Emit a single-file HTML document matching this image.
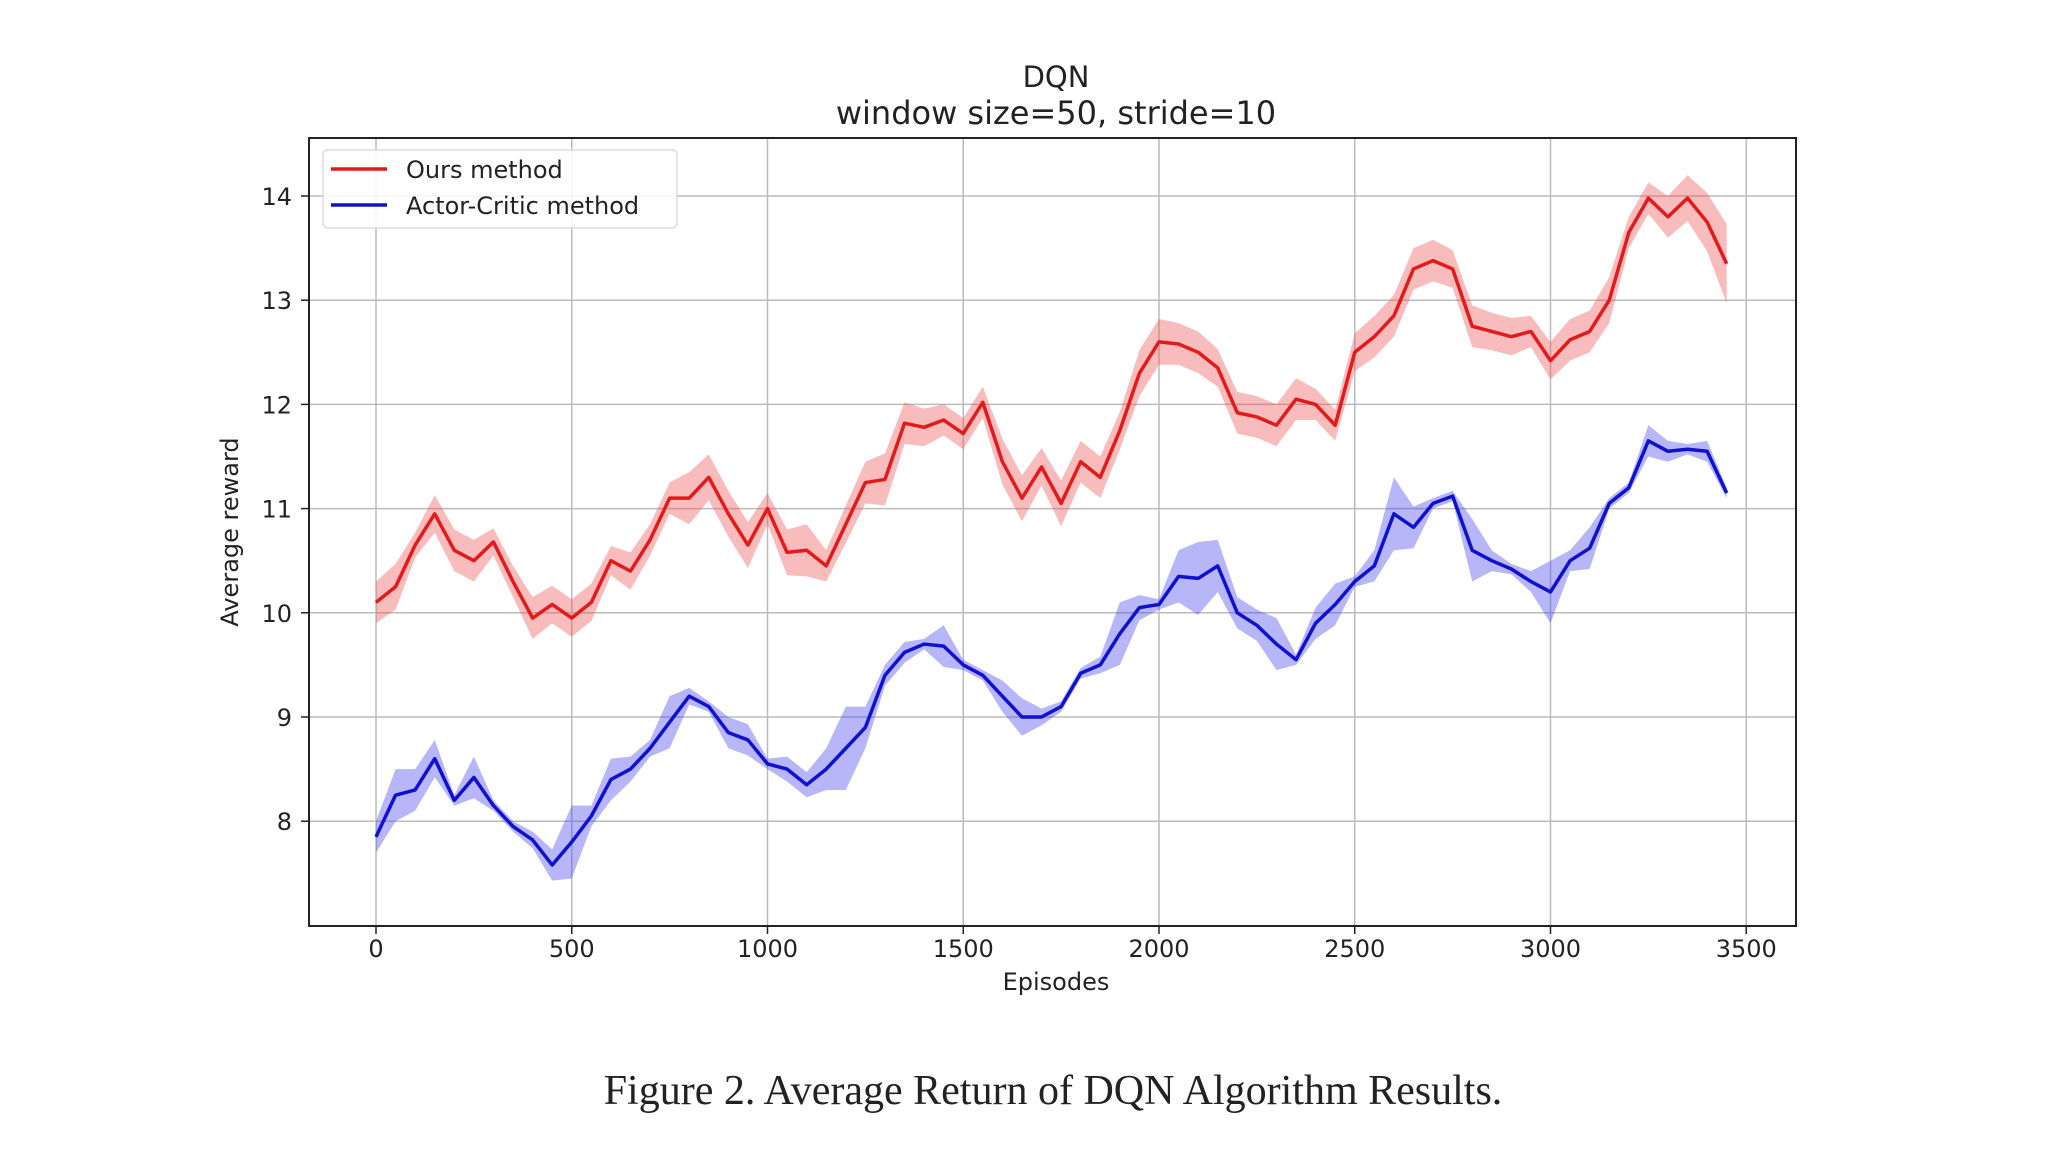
<!DOCTYPE html>
<html><head><meta charset="utf-8"><style>
html,body{margin:0;padding:0;background:#fff;}
svg{display:block;}
text{font-family:"DejaVu Sans","Liberation Sans",sans-serif;fill:#222;}
</style></head><body>
<svg id="chart" width="2048" height="1152" viewBox="0 0 2048 1152">
<text x="1056" y="87" font-size="29" text-anchor="middle">DQN</text>
<text x="1056" y="124" font-size="32" text-anchor="middle">window size=50, stride=10</text>
<g id="grid"></g>
<g id="series"></g>
<rect x="309" y="138" width="1487" height="788" fill="none" stroke="#222" stroke-width="2"/>
<g id="ticks"></g>
<text x="1056" y="990" font-size="24" text-anchor="middle">Episodes</text>
<text transform="translate(238,532) rotate(-90)" font-size="24" text-anchor="middle">Average reward</text>
<g>
<rect x="323" y="150" width="354" height="78" rx="5" fill="#fff" fill-opacity="0.85" stroke="#ddd" stroke-width="1.5"/>
<line x1="331" y1="169" x2="387" y2="169" stroke="#e31a1c" stroke-width="3.5"/>
<text x="406" y="178" font-size="24">Ours method</text>
<line x1="331" y1="205" x2="387" y2="205" stroke="#1010d0" stroke-width="3.5"/>
<text x="406" y="214" font-size="24">Actor-Critic method</text>
</g>
<text x="1053" y="1104" font-size="42" text-anchor="middle" style="font-family:'Liberation Serif',serif">Figure 2. Average Return of DQN Algorithm Results.</text>
</svg>
<script>
const episodes = [];
for (let i = 0; i < 70; i++) episodes.push(i * 50);
const oursMean = [10.1,10.25,10.65,10.95,10.6,10.5,10.68,10.3,9.95,10.08,9.95,10.1,10.5,10.4,10.7,11.1,11.1,11.3,10.95,10.65,11.0,10.58,10.6,10.45,10.85,11.25,11.28,11.82,11.78,11.85,11.72,12.02,11.45,11.1,11.4,11.05,11.45,11.3,11.75,12.3,12.6,12.58,12.5,12.35,11.92,11.88,11.8,12.05,12.0,11.8,12.5,12.65,12.85,13.3,13.38,13.3,12.75,12.7,12.65,12.7,12.42,12.62,12.7,13.0,13.65,13.98,13.8,13.98,13.75,13.35];
const oursSpread = [0.2,0.22,0.12,0.18,0.2,0.2,0.13,0.15,0.2,0.18,0.18,0.18,0.14,0.18,0.15,0.15,0.25,0.22,0.22,0.22,0.15,0.22,0.25,0.15,0.18,0.2,0.25,0.2,0.18,0.15,0.15,0.15,0.22,0.22,0.18,0.22,0.2,0.2,0.18,0.22,0.22,0.2,0.2,0.18,0.2,0.2,0.2,0.2,0.15,0.15,0.18,0.2,0.2,0.2,0.2,0.18,0.2,0.18,0.18,0.15,0.18,0.2,0.2,0.22,0.15,0.15,0.2,0.22,0.28,0.38];
const acMean = [7.85,8.25,8.3,8.6,8.2,8.42,8.15,7.95,7.82,7.58,7.8,8.05,8.4,8.5,8.7,8.95,9.2,9.1,8.85,8.78,8.55,8.5,8.35,8.5,8.7,8.9,9.4,9.62,9.7,9.68,9.5,9.4,9.2,9.0,9.0,9.1,9.42,9.5,9.8,10.05,10.08,10.35,10.33,10.45,10.0,9.88,9.7,9.55,9.9,10.08,10.3,10.45,10.95,10.82,11.05,11.12,10.6,10.5,10.42,10.3,10.2,10.5,10.62,11.05,11.2,11.65,11.55,11.57,11.55,11.15];
const acSpread = [0.15,0.25,0.2,0.18,0.05,0.2,0.05,0.05,0.08,0.15,0.35,0.1,0.2,0.12,0.08,0.25,0.08,0.05,0.15,0.15,0.05,0.12,0.12,0.2,0.4,0.2,0.1,0.1,0.05,0.2,0.05,0.05,0.15,0.18,0.08,0.05,0.05,0.08,0.3,0.12,0.05,0.25,0.35,0.25,0.15,0.15,0.25,0.05,0.15,0.2,0.05,0.15,0.35,0.2,0.05,0.05,0.3,0.1,0.05,0.1,0.3,0.1,0.2,0.05,0.05,0.15,0.1,0.05,0.1,0.05];
const xTicks = [0,500,1000,1500,2000,2500,3000,3500];
const yTicks = [8,9,10,11,12,13,14];

const NS = "http://www.w3.org/2000/svg";
const xs = v => 376 + v * 0.3915;
const ys = v => 196 + (14 - v) * 104.2;
const grid = document.getElementById('grid');
const ticks = document.getElementById('ticks');
const series = document.getElementById('series');
function mk(tag, attrs, parent){const e=document.createElementNS(NS,tag);for(const k in attrs)e.setAttribute(k,attrs[k]);parent.appendChild(e);return e;}

xTicks.forEach(t => {
  const gl = mk('line',{x1:xs(t),x2:xs(t),y1:138,y2:926,stroke:'#bbb','stroke-width':1.5},grid);
  
  
  const tk = mk('line',{x1:xs(t),x2:xs(t),y1:926,y2:934,stroke:'#222','stroke-width':1.5},ticks);
  
  
  const lb = mk('text',{x:xs(t),y:957,'font-size':24,'text-anchor':'middle'},ticks);
  lb.textContent = t;
  
  
});
yTicks.forEach(t => {
  const gl = mk('line',{x1:309,x2:1796,y1:ys(t),y2:ys(t),stroke:'#bbb','stroke-width':1.5},grid);
  
  
  const tk = mk('line',{x1:301,x2:309,y1:ys(t),y2:ys(t),stroke:'#222','stroke-width':1.5},ticks);
  
  
  const lb = mk('text',{x:292,y:ys(t)+9,'font-size':24,'text-anchor':'end'},ticks);
  lb.textContent = t;
  
  
});

function drawSeries(mean, spread, color, fill, name){
  let up = '', dn = '';
  episodes.forEach((e,i)=>{ up += (i?'L':'M') + xs(e) + ',' + ys(mean[i]+spread[i]); });
  for (let i = episodes.length-1; i >= 0; i--) dn += 'L' + xs(episodes[i]) + ',' + ys(mean[i]-spread[i]);
  const band = mk('path',{d:up+dn+'Z',fill:fill,'fill-opacity':0.38,stroke:'none'},series);
  
  
  const pts = episodes.map((e,i)=>xs(e)+','+ys(mean[i])).join(' ');
  const line = mk('polyline',{points:pts,fill:'none',stroke:color,'stroke-width':3.5,'stroke-linejoin':'round'},series);
  
  
}
drawSeries(oursMean, oursSpread, '#e31a1c', '#f05050', 'ours');
drawSeries(acMean, acSpread, '#1010d0', '#4040f0', 'actor-critic');
</script>
</body></html>
